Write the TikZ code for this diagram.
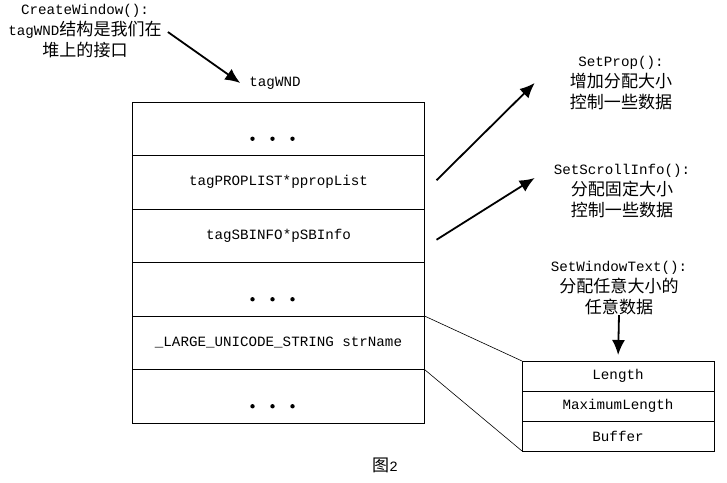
\documentclass[tikz,border=0pt]{standalone}
\usepackage{fontspec}
\setmainfont{Liberation Mono}
\newfontfamily\cjk[Scale=1.2]{Noto Sans CJK SC}
\usetikzlibrary{positioning,arrows.meta}

\begin{document}
\begin{tikzpicture}[x=1pt, y=-1pt, node distance=0pt, font=\fontsize{14.2}{21}\selectfont]
\tikzstyle{row} = [rectangle, draw, line width=0.8pt, minimum width=292pt, minimum height=53.5pt, inner sep=0pt, outer sep=0pt]
\tikzstyle{cell} = [rectangle, draw, line width=0.8pt, minimum width=192pt, minimum height=30pt, inner sep=0pt, outer sep=0pt]
\tikzstyle{note} = [align=center, inner sep=0pt]
\tikzstyle{line} = [draw, line width=1.8pt, -{Latex[length=15pt,width=13pt]}]
\tikzstyle{thin} = [draw, line width=0.6pt]

\useasboundingbox (0,0) rectangle (727,482);

% tagWND on the heap
\node [row] (rowA) at (278.5,128.75) {};
\node [row, below=of rowA] (rowB) {tagPROPLIST*ppropList};
\node [row, below=of rowB] (rowC) {tagSBINFO*pSBInfo};
\node [row, below=of rowC] (rowD) {};
\node [row, below=of rowD] (rowE) {\_LARGE\_UNICODE\_STRING strName};
\node [row, below=of rowE] (rowF) {};
\foreach \r in {rowA,rowD,rowF}
  \foreach \dx in {-20,0,20}
    \fill ([shift={(\dx-6,10)}]\r.center) circle (2.2);

% strName buffer
\node [cell] (len) at (618,376) {Length};
\node [cell, below=of len] (maxlen) {MaximumLength};
\node [cell, below=of maxlen] (buf) {Buffer};
\path [thin] (rowE.north east) -- (len.north west);
\path [thin] (rowE.south east) -- (buf.south west);

% notes
\node [note] (create) at (85,31) {CreateWindow():\\tagWND{\cjk 结构是我们在}\\{\cjk 堆上的接口}};
\node [note] (wnd) at (275,83) {tagWND};
\node [note] (prop) at (621,83) {SetProp():\\{\cjk 增加分配大小}\\{\cjk 控制一些数据}};
\node [note] (scroll) at (622,191) {SetScrollInfo():\\{\cjk 分配固定大小}\\{\cjk 控制一些数据}};
\node [note] (wtext) at (619,288) {SetWindowText():\\{\cjk 分配任意大小的}\\{\cjk 任意数据}};
\node [note] (fig) at (385,465) {{\cjk 图}2};

\coordinate (createFrom) at ([shift={(6,1)}]create.east);
\coordinate (wndTip) at ([xshift=-9]wnd.west);
\coordinate (propFrom) at ([shift={(12,-2)}]rowB.east);
\coordinate (propTip) at ([xshift=-35]prop.west);
\coordinate (scrollFrom) at ([shift={(12,4)}]rowC.east);
\coordinate (scrollTip) at ([shift={(-19,-13)}]scroll.west);

\path [line] (createFrom) -- (wndTip);
\path [line] (propFrom) -- (propTip);
\path [line] (scrollFrom) -- (scrollTip);
\path [line, shorten >=6pt] (wtext.south) -- (len.north);
\end{tikzpicture}
\end{document}
